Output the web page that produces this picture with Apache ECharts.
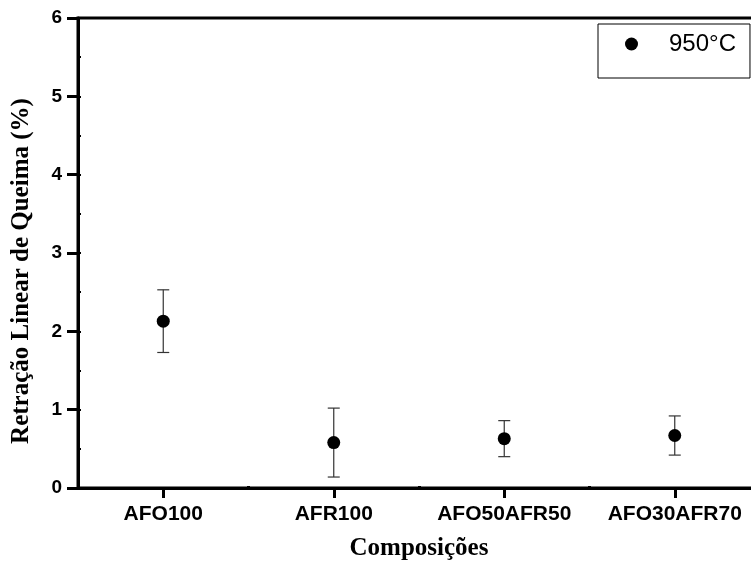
<!DOCTYPE html>
<html>
<head>
<meta charset="utf-8">
<script src="https://cdn.jsdelivr.net/npm/echarts@6/dist/echarts.min.js"></script>
<style>
  html, body { margin: 0; padding: 0; background: #fff; }
  #main { width: 751px; height: 563px; }
</style>
</head>
<body>
<div id="main"></div>
<script>
// composições e retração linear de queima a 950°C
const categories = ["AFO100", "AFR100", "AFO50AFR50", "AFO30AFR70"];
const meanValues = [2.13, 0.58, 0.63, 0.67];
const errorValues = [0.40, 0.44, 0.23, 0.25];
const seriesName = "950°C";

const scatterData = categories.map((c, i) => [c, meanValues[i]]);
const errorData = categories.map((c, i) => [i, meanValues[i] - errorValues[i], meanValues[i] + errorValues[i]]);

const sans = "Liberation Sans, Arial, sans-serif";
const serif = "Liberation Serif, Times New Roman, serif";

const chart = echarts.init(document.getElementById("main"));

const option = {
  backgroundColor: "#fff",
  animation: false,
  grid: {
    left: 78,
    top: 18,
    right: -9,
    bottom: 75,
    outerBoundsMode: "none",
    containLabel: false,
    show: true,
    borderColor: "#000",
    borderWidth: 3,
  },
  legend: {
    data: [{ name: seriesName, icon: "circle" }],
    left: 598,
    top: 24,
    itemWidth: 13,
    itemHeight: 13,
    padding: [8, 14, 22, 27],
    borderColor: "#000",
    borderWidth: 1,
    itemStyle: { color: "#000", opacity: 1 },
    textStyle: {
      fontFamily: sans,
      fontSize: 24,
      color: "#000",
      padding: [0, 0, 0, 26],
    },
  },
  xAxis: [
    {
      type: "category",
      data: categories,
      name: "Composições",
      nameLocation: "middle",
      nameGap: 48,
      nameTextStyle: { fontFamily: serif, fontWeight: "bold", fontSize: 25, color: "#000" },
      axisLine: { show: true, lineStyle: { color: "#000", width: 3 } },
      axisTick: { show: true, alignWithLabel: true, interval: 0, length: 10, lineStyle: { color: "#000", width: 3 } },
      axisLabel: { interval: 0, fontFamily: sans, fontWeight: "bold", fontSize: 21, color: "#000", margin: 16 },
      splitLine: { show: false },
      z: 5,
    },
    {
      // ticks menores nas divisões
      type: "category",
      data: categories,
      position: "bottom",
      axisLine: { show: false },
      axisTick: { show: true, inside: true, interval: 0, length: 2, lineStyle: { color: "#000", width: 3 } },
      axisLabel: { show: false },
      splitLine: { show: false },
    },
  ],
  yAxis: [
    {
      type: "value",
      min: 0,
      max: 6,
      interval: 1,
      name: "Retração Linear de Queima (%)",
      nameLocation: "middle",
      nameGap: 44,
      nameTextStyle: { fontFamily: serif, fontWeight: "bold", fontSize: 25, color: "#000", padding: [0, 36, 0, 0] },
      axisLine: { show: true, lineStyle: { color: "#000", width: 3 } },
      axisTick: { show: true, length: 11, lineStyle: { color: "#000", width: 3 } },
      axisLabel: { fontFamily: sans, fontWeight: "bold", fontSize: 19, color: "#000", margin: 16 },
      splitLine: { show: false },
    },
    {
      type: "value",
      min: 0,
      max: 6,
      interval: 0.5,
      position: "left",
      axisLine: { show: false },
      axisTick: { show: true, inside: true, length: 3, lineStyle: { color: "#000", width: 2 } },
      axisLabel: { show: false },
      splitLine: { show: false },
    },
  ],
  series: [
    {
      type: "custom",
      name: "erro",
      data: errorData,
      z: 2,
      renderItem: function (params, api) {
        const lo = api.coord([api.value(0), api.value(1)]);
        const hi = api.coord([api.value(0), api.value(2)]);
        const hw = 6;
        const style = { stroke: "#333", lineWidth: 1.2 };
        return {
          type: "group",
          children: [
            { type: "line", shape: { x1: hi[0], y1: hi[1], x2: lo[0], y2: lo[1] }, style: style },
            { type: "line", shape: { x1: hi[0] - hw, y1: hi[1], x2: hi[0] + hw, y2: hi[1] }, style: style },
            { type: "line", shape: { x1: lo[0] - hw, y1: lo[1], x2: lo[0] + hw, y2: lo[1] }, style: style },
          ],
        };
      },
    },
    {
      type: "scatter",
      name: seriesName,
      data: scatterData,
      symbol: "circle",
      symbolSize: 13,
      z: 3,
      itemStyle: { color: "#000", opacity: 1 },
    },
  ],
};

chart.setOption(option);
</script>
</body>
</html>
